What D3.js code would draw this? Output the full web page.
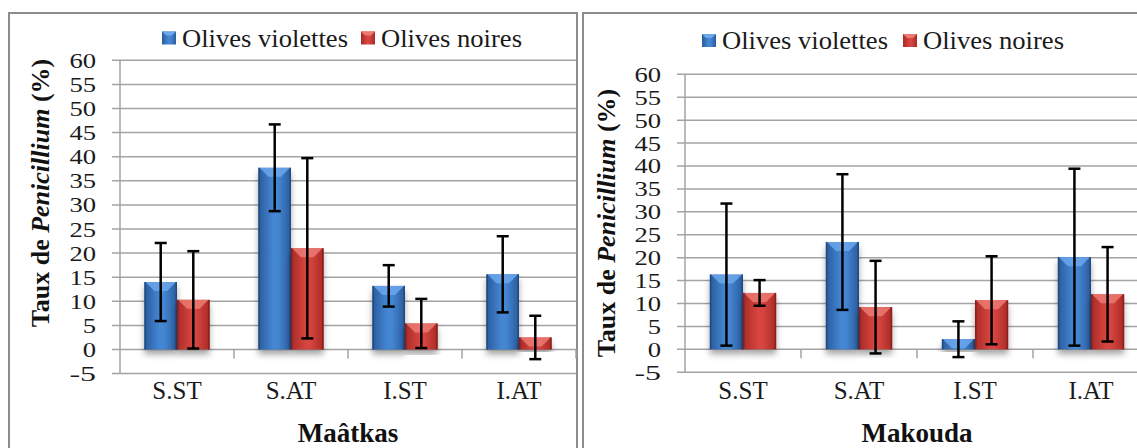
<!DOCTYPE html>
<html>
<head>
<meta charset="utf-8">
<script src="https://cdn.jsdelivr.net/npm/d3@7"></script>
<style>
  body { margin: 0; background: #fff; }
  svg text { font-family: "Liberation Serif", "DejaVu Serif", serif; }
</style>
</head>
<body>
<div id="chart"></div>
<script>
// Data
var categories = ["S.ST", "S.AT", "I.ST", "I.AT"];
var seriesNames = ["Olives violettes", "Olives noires"];
var yTicks = [-5, 0, 5, 10, 15, 20, 25, 30, 35, 40, 45, 50, 55, 60];

var maatkasViolettes = [14.0, 37.7, 13.2, 15.6];
var maatkasViolettesErr = [8.1, 9.0, 4.3, 7.9];
var maatkasNoires = [10.3, 21.0, 5.4, 2.5];
var maatkasNoiresErr = [10.1, 18.7, 5.1, 4.5];

var makoudaViolettes = [16.3, 23.4, 2.2, 20.1];
var makoudaViolettesErr = [15.5, 14.8, 3.9, 19.3];
var makoudaNoires = [12.3, 9.2, 10.7, 12.0];
var makoudaNoiresErr = [2.8, 10.1, 9.6, 10.3];

// Layout
var W = 1137, H = 448;
var COLORS = {
  blue: { edge: "#2a5b9c", mid: "#4486d3", top: "#6ba7ec", dark: "#1f4a82" },
  red: { edge: "#a82a26", mid: "#d6453f", top: "#ec7a72", dark: "#8a1f1c" }
};

var svg = d3.select("#chart").append("svg")
  .attr("width", W)
  .attr("height", H);

var defs = svg.append("defs");
["blue", "red"].forEach(function(k) {
  var g = defs.append("linearGradient").attr("id", "grad-" + k)
    .attr("x1", "0").attr("x2", "1").attr("y1", "0").attr("y2", "0");
  g.append("stop").attr("offset", "0").attr("stop-color", COLORS[k].edge);
  g.append("stop").attr("offset", "0.45").attr("stop-color", COLORS[k].mid);
  g.append("stop").attr("offset", "0.6").attr("stop-color", COLORS[k].mid);
  g.append("stop").attr("offset", "1").attr("stop-color", COLORS[k].edge);
});
var shadow = defs.append("filter").attr("id", "shadow")
  .attr("x", "-20%").attr("y", "-10%").attr("width", "140%").attr("height", "130%");
shadow.append("feDropShadow").attr("dx", 0).attr("dy", 5)
  .attr("stdDeviation", 3).attr("flood-color", "#000").attr("flood-opacity", 0.35);

var panels = [
  {
    border: { x: 9, y: 13, w: 568, h: 460 },
    x0: 120, x1: 576, yTop: 60.3, yZero: 349.5,
    legendX: 162, legendY: 46.5, legend2X: 361,
    titleX: 40, titleY: 193, xTitle: "Maâtkas",
    values: [maatkasViolettes, maatkasNoires],
    errors: [maatkasViolettesErr, maatkasNoiresErr]
  },
  {
    border: { x: 583, y: 13, w: 570, h: 460 },
    x0: 685, x1: 1149, yTop: 74.3, yZero: 349.3,
    legendX: 702, legendY: 49, legend2X: 903,
    titleX: 606, titleY: 223, xTitle: "Makouda",
    values: [makoudaViolettes, makoudaNoires],
    errors: [makoudaViolettesErr, makoudaNoiresErr]
  }
];

panels.forEach(drawPanel);

function drawPanel(p) {
  var g = svg.append("g");

  g.append("rect")
    .attr("x", p.border.x).attr("y", p.border.y)
    .attr("width", p.border.w).attr("height", p.border.h)
    .attr("fill", "#fff").attr("stroke", "#8c8c8c").attr("stroke-width", 2);

  var y = d3.scaleLinear().domain([0, 60]).range([p.yZero, p.yTop]);
  var x = d3.scaleBand().domain(categories).range([p.x0, p.x1]).paddingInner(0).paddingOuter(0);
  var groupW = x.bandwidth() * 2 / 3.5;
  var xs = d3.scaleBand().domain(seriesNames).range([0, groupW]);

  // gridlines (they extend a little left of the axis, like tick marks)
  g.selectAll("line.grid").data(yTicks).enter().append("line")
    .attr("class", "grid")
    .attr("x1", p.x0 - 8).attr("x2", p.x1)
    .attr("y1", function(d) { return y(d); })
    .attr("y2", function(d) { return y(d); })
    .attr("stroke", "#a3a3a3").attr("stroke-width", 1.5);

  // y axis line
  g.append("line")
    .attr("x1", p.x0).attr("x2", p.x0)
    .attr("y1", y(60)).attr("y2", y(-5))
    .attr("stroke", "#a3a3a3").attr("stroke-width", 1.5);

  // category tick marks under the zero line
  g.selectAll("line.ctick").data(categories.slice(1).concat(["end"])).enter().append("line")
    .attr("class", "ctick")
    .attr("x1", function(d, i) { return p.x0 + x.bandwidth() * (i + 1); })
    .attr("x2", function(d, i) { return p.x0 + x.bandwidth() * (i + 1); })
    .attr("y1", y(0)).attr("y2", y(0) + 9)
    .attr("stroke", "#a3a3a3").attr("stroke-width", 1.5);

  // y tick labels, stretched sideways like the picture
  g.selectAll("text.ytick").data(yTicks).enter().append("text")
    .attr("class", "ytick")
    .attr("text-anchor", "end")
    .attr("font-size", 21)
    .attr("fill", "#1a1a1a")
    .attr("x", p.x0 - 24)
    .attr("y", function(d) { return y(d) + 7.5; })
    .attr("textLength", function(d) { return String(d).length * 13.3; })
    .attr("lengthAdjust", "spacingAndGlyphs")
    .text(function(d) { return d; });

  // category labels
  g.selectAll("text.xtick").data(categories).enter().append("text")
    .attr("class", "xtick")
    .attr("text-anchor", "middle")
    .attr("font-size", 25)
    .attr("fill", "#1a1a1a")
    .attr("x", function(d) { return x(d) + x.bandwidth() / 2; })
    .attr("y", 399)
    .text(function(d) { return d; });

  // bars
  var bars = [];
  categories.forEach(function(c, ci) {
    seriesNames.forEach(function(s, si) {
      bars.push({ cat: c, series: s, si: si, value: p.values[si][ci], err: p.errors[si][ci] });
    });
  });

  var bw = xs.bandwidth();
  var barG = g.selectAll("g.bar").data(bars).enter().append("g")
    .attr("class", "bar")
    .attr("transform", function(d) {
      return "translate(" + (x(d.cat) + (x.bandwidth() - groupW) / 2 + xs(d.series)) + ",0)";
    });

  barG.append("rect")
    .attr("x", 0).attr("width", bw)
    .attr("y", function(d) { return y(d.value); })
    .attr("height", function(d) { return y(0) - y(d.value); })
    .attr("fill", function(d) { return "url(#grad-" + (d.si ? "red" : "blue") + ")"; })
    .attr("filter", "url(#shadow)");

  // bevel at the top of each bar
  barG.append("polygon")
    .attr("points", function(d) {
      var t = y(d.value), h = Math.min(9, y(0) - t);
      return [[1, t], [bw - 1, t], [bw - 1 - h, t + h], [1 + h, t + h]].join(" ");
    })
    .attr("fill", function(d) { return COLORS[d.si ? "red" : "blue"].top; })
    .attr("opacity", 0.85);

  barG.append("rect")
    .attr("x", 0).attr("width", 1.5)
    .attr("y", function(d) { return y(d.value); })
    .attr("height", function(d) { return y(0) - y(d.value); })
    .attr("fill", function(d) { return COLORS[d.si ? "red" : "blue"].dark; });
  barG.append("rect")
    .attr("x", bw - 1.5).attr("width", 1.5)
    .attr("y", function(d) { return y(d.value); })
    .attr("height", function(d) { return y(0) - y(d.value); })
    .attr("fill", function(d) { return COLORS[d.si ? "red" : "blue"].dark; });

  // error bars
  var cap = 6;
  barG.append("line")
    .attr("x1", bw / 2).attr("x2", bw / 2)
    .attr("y1", function(d) { return y(d.value + d.err); })
    .attr("y2", function(d) { return y(d.value - d.err); })
    .attr("stroke", "#000").attr("stroke-width", 2.5);
  barG.append("line")
    .attr("x1", bw / 2 - cap).attr("x2", bw / 2 + cap)
    .attr("y1", function(d) { return y(d.value + d.err); })
    .attr("y2", function(d) { return y(d.value + d.err); })
    .attr("stroke", "#000").attr("stroke-width", 2.5);
  barG.append("line")
    .attr("x1", bw / 2 - cap).attr("x2", bw / 2 + cap)
    .attr("y1", function(d) { return y(d.value - d.err); })
    .attr("y2", function(d) { return y(d.value - d.err); })
    .attr("stroke", "#000").attr("stroke-width", 2.5);

  // legend
  var lg = g.append("g");
  var legendLen = [166, 141];
  [p.legendX, p.legend2X].forEach(function(lx, i) {
    var k = i ? "red" : "blue";
    lg.append("rect")
      .attr("x", lx).attr("y", p.legendY - 15)
      .attr("width", 14).attr("height", 13)
      .attr("fill", "url(#grad-" + k + ")");
    lg.append("polygon")
      .attr("points", [[lx, p.legendY - 15], [lx + 14, p.legendY - 15], [lx + 10, p.legendY - 11], [lx + 4, p.legendY - 11]].join(" "))
      .attr("fill", COLORS[k].top);
    lg.append("text")
      .attr("x", lx + 20).attr("y", p.legendY)
      .attr("font-size", 25)
      .attr("fill", "#1a1a1a")
      .attr("textLength", legendLen[i])
      .attr("lengthAdjust", "spacingAndGlyphs")
      .text(seriesNames[i]);
  });

  // y title
  var yt = g.append("text")
    .attr("transform", "translate(" + (p.titleX + 9) + "," + p.titleY + ") rotate(-90)")
    .attr("text-anchor", "middle")
    .attr("font-size", 26)
    .attr("font-weight", "bold")
    .attr("fill", "#111");
  yt.append("tspan").text("Taux de ");
  yt.append("tspan").attr("font-style", "italic").text("Penicillium");
  yt.append("tspan").text(" (%)");

  // x title
  g.append("text")
    .attr("x", p.x0 + (x.bandwidth() * 4) / 2)
    .attr("y", 442)
    .attr("text-anchor", "middle")
    .attr("font-size", 27)
    .attr("font-weight", "bold")
    .attr("fill", "#111")
    .text(p.xTitle);
}
</script>
</body>
</html>
